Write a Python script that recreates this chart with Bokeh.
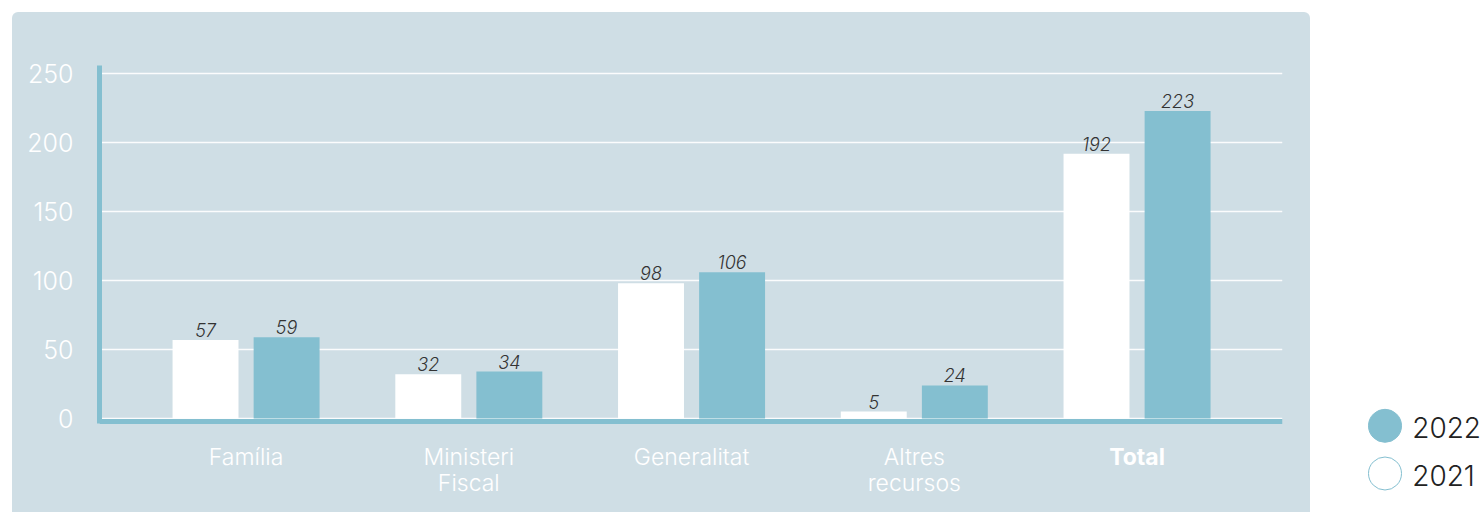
from bokeh.plotting import figure
from bokeh.models import ColumnDataSource, FixedTicker, Range1d
from bokeh.layouts import row
from bokeh.transform import dodge
from bokeh.core.properties import value
from bokeh.embed import file_html
from bokeh.resources import INLINE

categories = ["Família", "Ministeri\nFiscal", "Generalitat", "Altres\nrecursos", "Total"]
cat_style = ["normal", "normal", "normal", "normal", "bold"]
series = ["2022", "2021"]
v2021 = [57, 32, 98, 5, 192]
v2022 = [59, 34, 106, 24, 223]
yticks = [0, 50, 100, 150, 200, 250]

PANEL = "#cfdee5"
TEAL = "#84bfd0"
FONT = "Inter Light, Inter"
FONT_B = "Inter"

xs = list(range(len(categories)))
src = ColumnDataSource(dict(
    x=xs, v21=v2021, v22=v2022,
    l21=[str(v) for v in v2021], l22=[str(v) for v in v2022],
    cat=categories, style=cat_style,
    font=[FONT if s == "normal" else FONT_B for s in cat_style],
    zero=[0] * len(xs),
))

PX = 1.379  # pixels per unit (layout)
p = figure(width=1298, height=500,
           x_range=Range1d(-0.658, 4.653),
           y_range=Range1d(-94 / PX, 353 / PX),
           x_axis_location=None,
           output_backend="svg", toolbar_location=None,
           min_border_left=87, min_border_right=28,
           min_border_top=53, min_border_bottom=0)
p.background_fill_alpha = 0
p.border_fill_alpha = 0
p.outline_line_color = None
p.styles = {"background-color": PANEL, "border-radius": "6px 6px 0 0",
            "overflow": "hidden"}
p.margin = (12, 0, 0, 12)

off = 0.182
bw = 0.296
p.vbar(x=dodge("x", -off), top="v21", width=bw, bottom=0, source=src,
       fill_color="white", line_color=None)
p.vbar(x=dodge("x", off), top="v22", width=bw, bottom=0, source=src,
       fill_color=TEAL, line_color=None)

for fld, lab, o in (("v21", "l21", -off), ("v22", "l22", off)):
    p.text(x=dodge("x", o), y=fld, text=lab, source=src,
           text_align="center", text_baseline="bottom", y_offset=-3,
           text_font=value(FONT), text_font_style="italic",
           text_font_size="18px", text_color="#333333")

# baseline (x axis line)
p.hspan(y=[-2.5 / PX], line_color=TEAL, line_width=5)

# category labels
p.text(x="x", y="zero", text="cat", source=src, text_align="center",
       text_baseline="top", y_offset=24, text_font="font",
       text_font_style="style", text_font_size="23px",
       text_line_height=0.94, text_color="white")

# y axis
p.yaxis.ticker = FixedTicker(ticks=yticks)
p.yaxis.bounds = (-5 / PX, 256)
p.yaxis.axis_line_color = TEAL
p.yaxis.axis_line_width = 5
p.yaxis.major_tick_line_color = None
p.yaxis.minor_tick_line_color = None
p.yaxis.major_label_text_color = "white"
p.yaxis.major_label_text_font = FONT
p.yaxis.major_label_text_font_size = "25px"
p.yaxis.major_label_standoff = 20

p.xgrid.visible = False
p.ygrid.grid_line_color = "white"
p.ygrid.grid_line_width = 1.5
p.ygrid.grid_line_alpha = 0.9

# legend panel (frame aligned with the chart frame: top at 53px, 447px tall)
leg = figure(width=171, height=500, x_range=Range1d(0, 171), y_range=Range1d(447, 0),
             x_axis_location=None, y_axis_location=None,
             output_backend="svg", toolbar_location=None,
             min_border_left=0, min_border_right=0,
             min_border_top=53, min_border_bottom=0)
leg.margin = (12, 0, 0, 0)
leg.grid.visible = False
leg.outline_line_color = None
leg.background_fill_color = "white"
leg.border_fill_color = "white"

ly = [360.3 + 47.7 * i for i in range(len(series))]
lsrc = ColumnDataSource(dict(x=[74.5] * 2, y=ly, t=series, fill=[TEAL, "white"]))
leg.scatter(x="x", y="y", size=33, source=lsrc, fill_color="fill",
            line_color=TEAL, line_width=1)
leg.text(x=101.7, y="y", text="t", source=lsrc, text_baseline="middle",
         y_offset=2, text_font=value(FONT), text_font_size="28px", text_color="#222222")

layout = row(p, leg)
open("out.html", "w").write(file_html(layout, INLINE))
